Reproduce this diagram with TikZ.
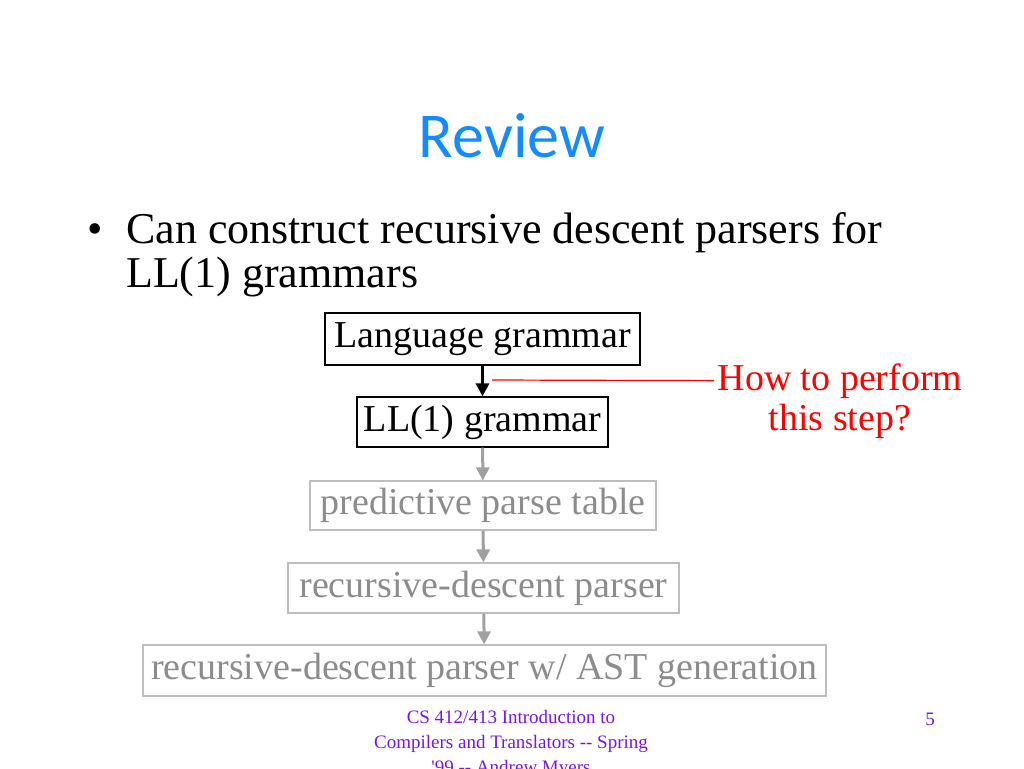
\documentclass[tikz,border=0pt]{standalone}
\usepackage{fontspec}
\setmainfont{Liberation Serif}
\newfontfamily\titlefont{Carlito}
\usetikzlibrary{arrows.meta}
\definecolor{titleblue}{RGB}{20,140,255}
\definecolor{footpurple}{RGB}{120,20,230}
\definecolor{boxgray}{RGB}{190,190,190}
\definecolor{txtgray}{RGB}{140,140,140}
\definecolor{arrgray}{RGB}{160,160,160}
\tikzset{bx/.style = {rectangle, draw, line width=1.2pt, inner sep=0pt, font=\fontsize{38}{40}\selectfont},
         gb/.style = {bx, draw=boxgray, text=txtgray},
         ar/.style = {-{Triangle[length=13pt, width=13pt]}, line width=3pt},
         ga/.style = {ar, draw=arrgray}}

\begin{document}
\begin{tikzpicture}[x=1pt, y=-1pt]
    \useasboundingbox (0,0) rectangle (1024,768);
    \clip (0,0) rectangle (1024,768);
    \node[anchor=base, text=titleblue, font=\titlefont\fontsize{64}{70}\selectfont] (title) at (512,157) {Review};
    \node[anchor=base, font=\fontsize{44}{44}\selectfont] (dot) at (95,243) {•};
    \node[anchor=base west, inner sep=0pt, font=\fontsize{44}{44}\selectfont] (l1) at (126,243) {Can construct recursive descent parsers for};
    \node[anchor=base west, inner sep=0pt, font=\fontsize{44}{44}\selectfont] (l2) at (126,287) {LL(1) grammars};
    \node[bx, minimum width=315, minimum height=52] (lang) at (482.5,339) {Language grammar};
    \node[bx, minimum width=251, minimum height=50] (ll) at (482.5,422) {LL(1) grammar};
    \node[gb, minimum width=346, minimum height=49] (tab) at (483,505.5) {predictive parse table};
    \node[gb, minimum width=391, minimum height=50] (rdp) at (483.5,588) {recursive-descent parser};
    \node[gb, minimum width=683, minimum height=51] (ast) at (484.5,670.5) {recursive-descent parser w/ AST generation};
    \node[anchor=base, text=red, font=\fontsize{38}{40}\selectfont] (how) at (840,390) {How to perform};
    \node[anchor=base, text=red, font=\fontsize{38}{40}\selectfont] (step) at (840,430) {this step?};
    \coordinate (ptr) at (492,380);
    \draw[ar] (lang) -- (ll);
    \draw[ga] (ll) -- (tab);
    \draw[ga] (tab) -- (rdp);
    \draw[ga] (rdp) -- (ast);
    \draw[red, line width=1.2pt] (ptr) -- (how.west);
    \node[anchor=north, inner sep=0pt, text=footpurple, align=center, font=\fontsize{19}{25}\selectfont] (foot) at (511,710)
        {CS 412/413 Introduction to\\ Compilers and Translators -{}- Spring\\ \textquotesingle99 -{}- Andrew Myers};
    \node[anchor=base, text=footpurple, font=\fontsize{19}{25}\selectfont] (num) at (930,725) {5};
\end{tikzpicture}
\end{document}
